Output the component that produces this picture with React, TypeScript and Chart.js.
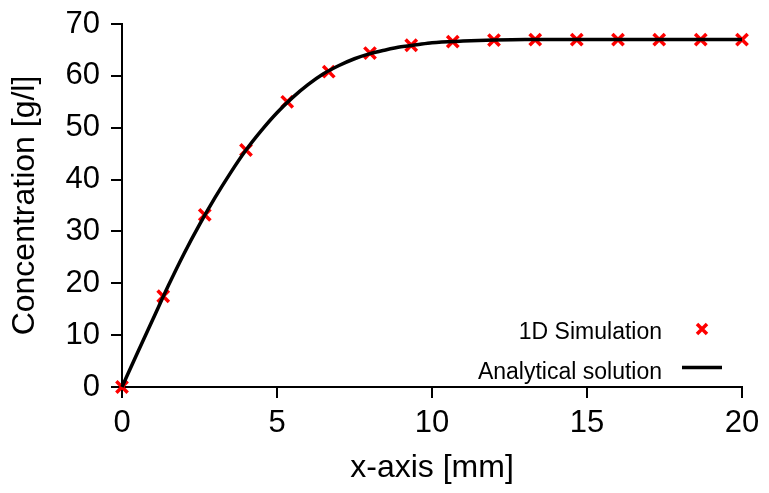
import React, { useEffect, useRef } from "react";
import { Chart, registerables } from "chart.js";

Chart.register(...registerables);

const simX = [0, 1.33, 2.67, 4, 5.33, 6.67, 8, 9.33, 10.67, 12, 13.33, 14.67, 16, 17.33, 18.67, 20];
const simY = [0, 17.5, 33.2, 45.7, 55.0, 60.8, 64.4, 65.9, 66.6, 66.9, 67.0, 67.0, 67.0, 67.0, 67.0, 67.0];

const anaX = [0, 0.5, 1, 1.5, 2, 2.5, 3, 3.5, 4, 4.5, 5, 5.5, 6, 6.5, 7, 7.5, 8, 8.5, 9, 9.5, 10, 11, 12, 13, 14, 15, 16, 17, 18, 19, 20];
const anaY = [0, 6.6, 13.1, 19.6, 25.7, 31.3, 36.5, 41.3, 45.7, 49.5, 52.9, 55.8, 58.3, 60.4, 62.0, 63.3, 64.3, 65.0, 65.6, 66.0, 66.4, 66.7, 66.9, 67.0, 67.0, 67.0, 67.0, 67.0, 67.0, 67.0, 67.0];

const xTitle = "x-axis [mm]";
const yTitle = "Concentration [g/l]";
const simLabel = "1D Simulation";
const anaLabel = "Analytical solution";

const FONT = "'Liberation Sans', Arial, Helvetica, sans-serif";

const legendPlugin = {
  id: "customLegend",
  afterDatasetsDraw(chart: any) {
    const { ctx, chartArea } = chart;
    const textRight = chartArea.right - 80;
    ctx.save();
    ctx.font = `23px ${FONT}`;
    ctx.fillStyle = "#000";
    ctx.textAlign = "right";
    ctx.textBaseline = "alphabetic";
    ctx.fillText(simLabel, textRight, chartArea.bottom - 48);
    ctx.fillText(anaLabel, textRight, chartArea.bottom - 8);
    // marker
    const mx = chartArea.right - 40;
    const my = chartArea.bottom - 58;
    const r = 5;
    ctx.strokeStyle = "#ff0000";
    ctx.lineWidth = 3.5;
    ctx.beginPath();
    ctx.moveTo(mx - r, my - r);
    ctx.lineTo(mx + r, my + r);
    ctx.moveTo(mx + r, my - r);
    ctx.lineTo(mx - r, my + r);
    ctx.stroke();
    // line
    ctx.strokeStyle = "#000";
    ctx.lineWidth = 3.5;
    ctx.beginPath();
    ctx.moveTo(chartArea.right - 60, chartArea.bottom - 19.5);
    ctx.lineTo(chartArea.right - 20, chartArea.bottom - 19.5);
    ctx.stroke();
    ctx.restore();
  },
};

export default function App() {
  const ref = useRef<HTMLCanvasElement>(null);
  useEffect(() => {
    if (!ref.current) return;
    const chart = new Chart(ref.current, {
      type: "line",
      data: {
        datasets: [
          {
            label: anaLabel,
            data: anaX.map((x, i) => ({ x, y: anaY[i] })),
            borderColor: "#000",
            borderWidth: 3.5,
            pointRadius: 0,
            cubicInterpolationMode: "monotone",
            fill: false,
            clip: false as any,
          },
          {
            label: simLabel,
            data: simX.map((x, i) => ({ x, y: simY[i] })),
            showLine: false,
            pointStyle: "crossRot",
            pointRadius: 8,
            pointBorderWidth: 3.5,
            borderColor: "#ff0000",
            backgroundColor: "#ff0000",
            pointBorderColor: "#ff0000",
            clip: false as any,
          },
        ],
      },
      options: {
        animation: false,
        responsive: true,
        maintainAspectRatio: false,
        layout: { padding: { top: 24, right: 27, left: 0, bottom: 0 } },
        plugins: { legend: { display: false }, tooltip: { enabled: false } },
        scales: {
          x: {
            type: "linear",
            min: 0,
            max: 20,
            afterFit: (s: any) => { s.height = 106; s.paddingLeft = 0; s.paddingRight = 0; },
            ticks: { stepSize: 5, color: "#000", font: { family: FONT, size: 31 }, padding: 7, maxRotation: 0 },
            grid: { drawOnChartArea: false, drawTicks: true, tickLength: 11, color: "#000", lineWidth: 2 },
            border: { display: true, color: "#000", width: 2 },
            title: { display: true, text: xTitle, color: "#000", font: { family: FONT, size: 32 }, padding: { top: 0, bottom: 6 } },
          },
          y: {
            type: "linear",
            min: 0,
            max: 70,
            afterFit: (s: any) => { s.width = 122; s.paddingTop = 0; s.paddingBottom = 0; },
            ticks: { stepSize: 10, color: "#000", font: { family: FONT, size: 31 }, padding: 11 },
            grid: { drawOnChartArea: false, drawTicks: true, tickLength: 11, color: "#000", lineWidth: 2 },
            border: { display: true, color: "#000", width: 2 },
            title: { display: true, text: yTitle, color: "#000", font: { family: FONT, size: 32 }, padding: { top: 6, bottom: 0 } },
          },
        },
      },
      plugins: [legendPlugin],
    });
    return () => chart.destroy();
  }, []);
  return (
    <div style={{ position: "absolute", left: 0, top: 0, width: 769, height: 493, background: "#fff" }}>
      <canvas ref={ref} />
    </div>
  );
}
